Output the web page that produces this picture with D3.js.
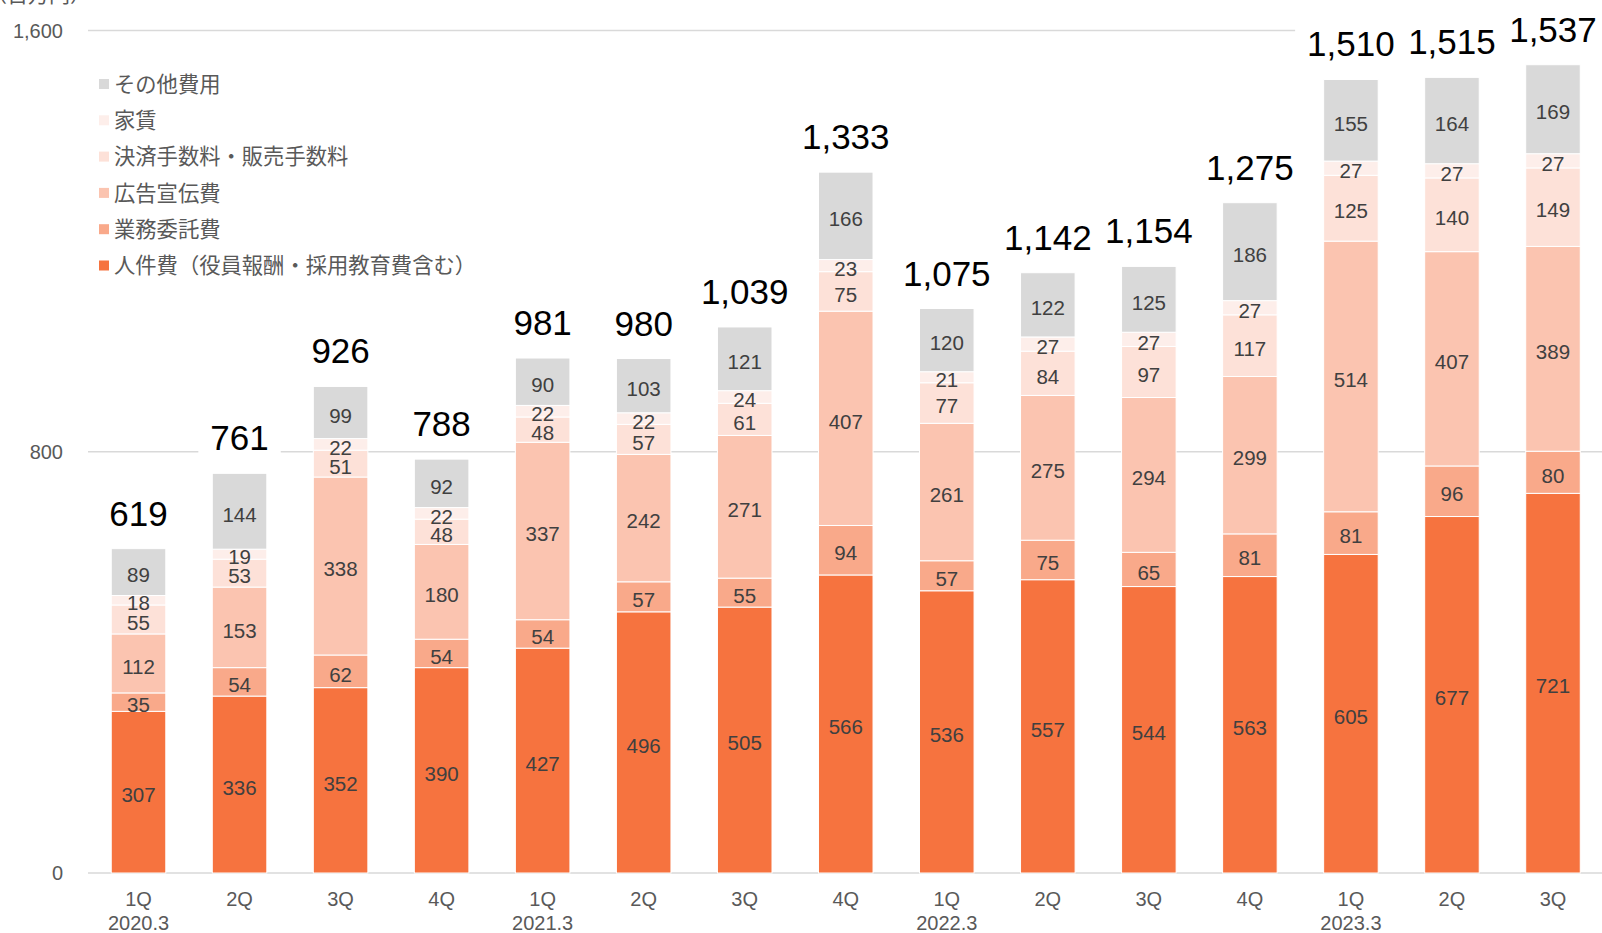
<!DOCTYPE html>
<html>
<head>
<meta charset="utf-8">
<script src="https://cdn.jsdelivr.net/npm/d3@7"></script>
<style>
  body { margin: 0; background: #fff; }
  text { font-family: "Liberation Sans", Arial, sans-serif; }
  .jp { font-family: "Noto Sans CJK JP", sans-serif; }
</style>
</head>
<body>
<div id="chart"></div>
<script>
  var w = 1602, h = 933;

  var quarters = ["1Q","2Q","3Q","4Q","1Q","2Q","3Q","4Q","1Q","2Q","3Q","4Q","1Q","2Q","3Q"];
  var years    = ["2020.3","","","","2021.3","","","","2022.3","","","","2023.3","",""];

  var seriesNames = ["人件費（役員報酬・採用教育費含む）", "業務委託費", "広告宣伝費",
                     "決済手数料・販売手数料", "家賃", "その他費用"];
  var colors = ["#f6733f", "#f9a98a", "#fbc4b0", "#fde1d8", "#fdeeea", "#d9d9d9"];

  var jinken   = [307, 336, 352, 390, 427, 496, 505, 566, 536, 557, 544, 563, 605, 677, 721];
  var gyomu    = [ 35,  54,  62,  54,  54,  57,  55,  94,  57,  75,  65,  81,  81,  96,  80];
  var koukoku  = [112, 153, 338, 180, 337, 242, 271, 407, 261, 275, 294, 299, 514, 407, 389];
  var kessai   = [ 55,  53,  51,  48,  48,  57,  61,  75,  77,  84,  97, 117, 125, 140, 149];
  var yachin   = [ 18,  19,  22,  22,  22,  22,  24,  23,  21,  27,  27,  27,  27,  27,  27];
  var sonota   = [ 89, 144,  99,  92,  90, 103, 121, 166, 120, 122, 125, 186, 155, 164, 169];
  var totals   = [619, 761, 926, 788, 981, 980, 1039, 1333, 1075, 1142, 1154, 1275, 1510, 1515, 1537];

  var yTicks = [0, 800, 1600];

  var series = [jinken, gyomu, koukoku, kessai, yachin, sonota];
  var rows = quarters.map(function(q, i) {
    var r = { i: i };
    series.forEach(function(s, k) { r[k] = s[i]; });
    return r;
  });
  var stacked = d3.stack().keys(d3.range(series.length))(rows);

  var svg = d3.select("#chart").append("svg")
    .attr("width", w).attr("height", h);

  var x = d3.scaleBand().domain(d3.range(quarters.length))
    .range([88, 1603.5]).paddingInner(0.46).paddingOuter(0.23);
  var y = d3.scaleLinear().domain([0, 1600]).range([873, 30.5]);

  // gridlines + y labels
  svg.append("g").selectAll("line").data(yTicks).enter().append("line")
    .attr("x1", 88).attr("x2", w)
    .attr("y1", function(d) { return y(d); }).attr("y2", function(d) { return y(d); })
    .attr("stroke", "#d9d9d9").attr("stroke-width", 1.5);
  svg.append("g").selectAll("text").data(yTicks).enter().append("text")
    .attr("x", 63).attr("y", function(d) { return y(d); }).attr("dy", "0.36em")
    .attr("text-anchor", "end").attr("font-size", 20).attr("fill", "#595959")
    .text(function(d) { return d3.format(",")(d); });

  svg.append("text").attr("class", "jp").attr("x", -14).attr("y", 2)
    .attr("font-size", 21).attr("fill", "#595959").text("（百万円）");

  // bars
  var layers = svg.append("g").selectAll("g").data(stacked).enter().append("g")
    .attr("fill", function(d) { return colors[d.key]; });
  layers.selectAll("rect").data(function(d) { return d; }).enter().append("rect")
    .attr("x", function(d) { return x(d.data.i); })
    .attr("width", x.bandwidth())
    .attr("y", function(d) { return y(d[1]); })
    .attr("height", function(d) { return y(d[0]) - y(d[1]); })
    .attr("stroke", "#fff").attr("stroke-width", 1);

  // segment labels
  stacked.forEach(function(layer) {
    svg.append("g").selectAll("text").data(layer).enter().append("text")
      .attr("x", function(d) { return x(d.data.i) + x.bandwidth() / 2; })
      .attr("y", function(d) { return y((d[0] + d[1]) / 2); })
      .attr("dy", "0.5em").attr("text-anchor", "middle")
      .attr("font-size", 20.5).attr("fill", "#404040")
      .text(function(d) { return d.data[layer.key]; });
  });

  // totals with white box (hides gridline behind)
  var tg = svg.append("g").selectAll("g").data(totals).enter().append("g");
  tg.append("text")
    .attr("x", function(d, i) { return x(i) + x.bandwidth() / 2; })
    .attr("y", function(d, i) { return y(stacked[5][i][1]) - 23; })
    .attr("text-anchor", "middle").attr("font-size", 35).attr("fill", "#000")
    .text(function(d) { return d3.format(",")(d); });
  tg.each(function() {
    var t = d3.select(this).select("text");
    var b = t.node().getBBox();
    d3.select(this).insert("rect", "text")
      .attr("x", b.x - 12).attr("y", b.y).attr("width", b.width + 24).attr("height", b.height)
      .attr("fill", "#fff");
  });

  // x axis labels
  svg.append("g").selectAll("text").data(quarters).enter().append("text")
    .attr("x", function(d, i) { return x(i) + x.bandwidth() / 2; })
    .attr("y", 906).attr("text-anchor", "middle")
    .attr("font-size", 20).attr("fill", "#595959").text(function(d) { return d; });
  svg.append("g").selectAll("text").data(years).enter().append("text")
    .attr("x", function(d, i) { return x(i) + x.bandwidth() / 2; })
    .attr("y", 930).attr("text-anchor", "middle")
    .attr("font-size", 20).attr("fill", "#595959").text(function(d) { return d; });

  // legend
  var legendOrder = d3.range(series.length).reverse();
  var lg = svg.append("g").selectAll("g").data(legendOrder).enter().append("g")
    .attr("transform", function(d, i) { return "translate(99," + (84 + i * 36.3) + ")"; });
  lg.append("rect").attr("x", 0).attr("y", -5).attr("width", 10).attr("height", 10)
    .attr("fill", function(d) { return colors[d]; });
  lg.append("text").attr("class", "jp").attr("x", 15).attr("dy", "0.36em")
    .attr("font-size", 21.3).attr("fill", "#595959")
    .text(function(d) { return seriesNames[d]; });
</script>
</body>
</html>
